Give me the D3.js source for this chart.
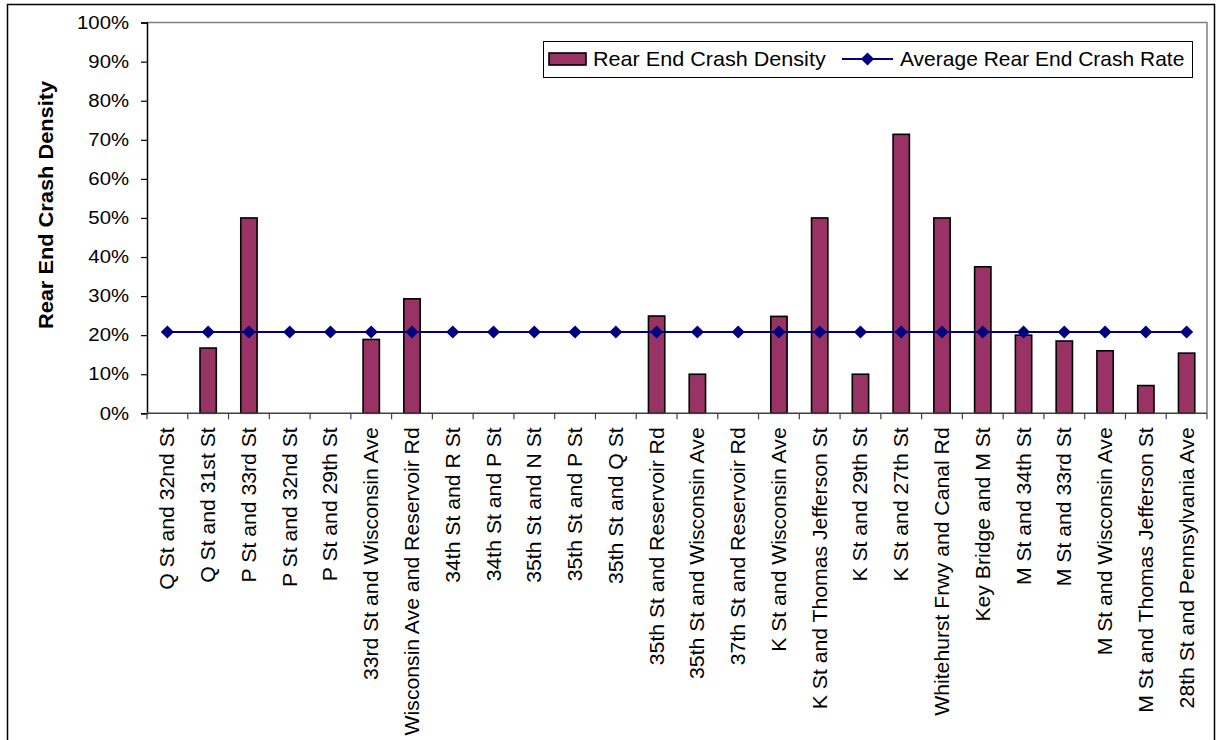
<!DOCTYPE html>
<html>
<head>
<meta charset="utf-8">
<script src="https://cdn.jsdelivr.net/npm/d3@7"></script>
<style>
  html, body { margin: 0; padding: 0; background: #fff; }
  svg { display: block; font-family: "Liberation Sans", Arial, sans-serif; }
</style>
</head>
<body>
<svg id="chart" width="1217" height="740"></svg>
<script>
// Intersections studied
const categories = [
  "Q St and 32nd St", "Q St and 31st St", "P St and 33rd St", "P St and 32nd St",
  "P St and 29th St", "33rd St and Wisconsin Ave", "Wisconsin Ave and Reservoir Rd",
  "34th St and R St", "34th St and P St", "35th St and N St", "35th St and P St",
  "35th St and Q St", "35th St and Reservoir Rd", "35th St and Wisconsin Ave",
  "37th St and Reservoir Rd", "K St and Wisconsin Ave", "K St and Thomas Jefferson St",
  "K St and 29th St", "K St and 27th St", "Whitehurst Frwy and Canal Rd",
  "Key Bridge and M St", "M St and 34th St", "M St and 33rd St",
  "M St and Wisconsin Ave", "M St and Thomas Jefferson St", "28th St and Pennsylvania Ave"
];

// Rear end crash density per intersection (%)
const densityValues = [
  0, 16.7, 50, 0, 0, 18.9, 29.3, 0, 0, 0, 0, 0, 24.9, 10, 0,
  24.8, 50, 10, 71.4, 50, 37.5, 20, 18.5, 16, 7.1, 15.4
];

// Corridor-wide average rear end crash rate (%)
const averageRate = categories.map(() => 20.8);

const yTicks = [0, 10, 20, 30, 40, 50, 60, 70, 80, 90, 100];

const seriesNames = ["Rear End Crash Density", "Average Rear End Crash Rate"];
const barColor = "#993366";
const lineColor = "#000080";

const svg = d3.select("#chart");

// Outer chart border
svg.append("rect")
  .attr("x", 7.5).attr("y", 4.5)
  .attr("width", 1207).attr("height", 760)
  .attr("fill", "none").attr("stroke", "#000").attr("stroke-width", 1.5);

const plot = { left: 147, right: 1207, top: 22.6, bottom: 413.3 };

const x = d3.scaleBand()
  .domain(categories)
  .range([plot.left, plot.right])
  .paddingInner(0).paddingOuter(0);

const y = d3.scaleLinear().domain([0, 100]).range([plot.bottom, plot.top]);

// Plot-area frame (top and right edges)
svg.append("path")
  .attr("d", `M${plot.left},${plot.top}H${plot.right}V${plot.bottom}`)
  .attr("fill", "none").attr("stroke", "#808080").attr("stroke-width", 1.5);

// Bars
const barW = x.bandwidth() / 2.5;
svg.append("g").selectAll("rect")
  .data(densityValues.map((v, i) => ({ c: categories[i], v })))
  .join("rect")
  .filter(d => d.v > 0)
  .attr("x", d => x(d.c) + (x.bandwidth() - barW) / 2)
  .attr("y", d => y(d.v))
  .attr("width", barW)
  .attr("height", d => y(0) - y(d.v))
  .attr("fill", barColor)
  .attr("stroke", "#000")
  .attr("stroke-width", 1.6);

// Y axis
const yAxis = d3.axisLeft(y)
  .tickValues(yTicks)
  .tickFormat(d => d + "%")
  .tickSize(6);
const gy = svg.append("g")
  .attr("transform", `translate(${plot.left},0)`)
  .call(yAxis);
gy.select(".domain").attr("stroke", "#000").attr("stroke-width", 1.5);
gy.selectAll(".tick line").attr("stroke", "#000").attr("stroke-width", 1.2);
gy.selectAll(".tick text")
  .attr("x", null)
  .attr("transform", "translate(-18,0) scale(1.13,1)")
  .attr("font-size", 18).attr("fill", "#000")
  .attr("font-family", "'Liberation Sans', Arial, sans-serif");

// X axis: tick marks at category boundaries
const gx = svg.append("g");
gx.append("line")
  .attr("x1", plot.left).attr("x2", plot.right)
  .attr("y1", plot.bottom).attr("y2", plot.bottom)
  .attr("stroke", "#404040").attr("stroke-width", 1.6);
const boundaries = categories.map(c => x(c)).concat([x(categories[categories.length - 1]) + x.bandwidth()]);
gx.selectAll("line.tk")
  .data(boundaries)
  .join("line")
  .attr("class", "tk")
  .attr("x1", d => d).attr("x2", d => d)
  .attr("y1", plot.bottom).attr("y2", plot.bottom + 6)
  .attr("stroke", "#404040").attr("stroke-width", 1.2);

// Category labels, rotated
gx.selectAll("text")
  .data(categories)
  .join("text")
  .attr("transform", d => `translate(${x(d) + x.bandwidth() / 2 + 7},${plot.bottom + 14}) rotate(-90) scale(1.06,1)`)
  .attr("text-anchor", "end")
  .attr("font-size", 20)
  .attr("fill", "#000")
  .text(d => d);

// Average line with diamond markers
const centers = categories.map((c, i) => [x(c) + x.bandwidth() / 2, y(averageRate[i])]);
svg.append("path")
  .attr("d", d3.line()(centers))
  .attr("fill", "none").attr("stroke", lineColor).attr("stroke-width", 2);
const diamond = d3.symbol().type(d3.symbolDiamond2).size(110);
svg.append("g").selectAll("path")
  .data(centers)
  .join("path")
  .attr("transform", d => `translate(${d[0]},${d[1]})`)
  .attr("d", diamond)
  .attr("fill", lineColor);

// Y axis title
svg.append("text")
  .attr("transform", "translate(53,205) rotate(-90) scale(1.09,1)")
  .attr("text-anchor", "middle")
  .attr("font-size", 20)
  .attr("font-weight", "bold")
  .attr("fill", "#000")
  .text("Rear End Crash Density");

// Legend
const lg = svg.append("g");
lg.append("rect")
  .attr("x", 543.5).attr("y", 41.5).attr("width", 649).attr("height", 36)
  .attr("fill", "#fff").attr("stroke", "#000").attr("stroke-width", 1);
lg.append("rect")
  .attr("x", 549).attr("y", 53).attr("width", 37).attr("height", 12)
  .attr("fill", barColor).attr("stroke", "#000").attr("stroke-width", 1.6);
lg.append("text")
  .attr("transform", "translate(593,66) scale(1.08,1)")
  .attr("font-size", 20).attr("fill", "#000")
  .text(seriesNames[0]);
lg.append("line")
  .attr("x1", 842).attr("x2", 893).attr("y1", 59).attr("y2", 59)
  .attr("stroke", lineColor).attr("stroke-width", 2);
lg.append("path")
  .attr("transform", "translate(867.5,59)")
  .attr("d", diamond)
  .attr("fill", lineColor);
lg.append("text")
  .attr("transform", "translate(900,66) scale(1.05,1)")
  .attr("font-size", 20).attr("fill", "#000")
  .text(seriesNames[1]);
</script>
</body>
</html>
